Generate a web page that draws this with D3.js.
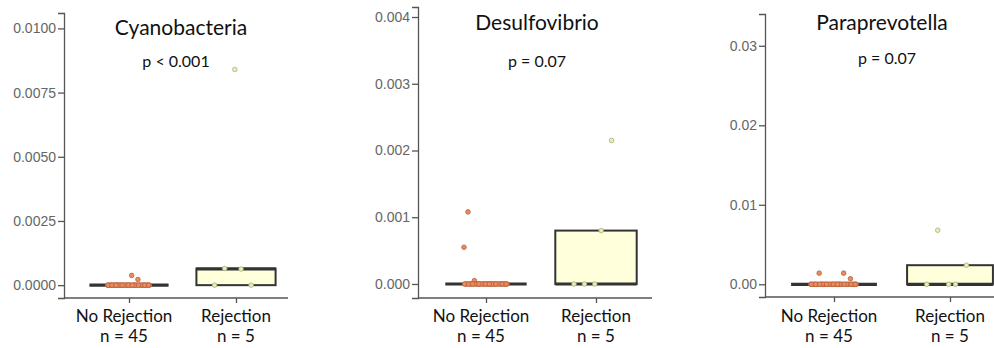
<!DOCTYPE html>
<html>
<head>
<meta charset="utf-8">
<script src="https://cdn.jsdelivr.net/npm/d3@7"></script>
<style>
  body { margin: 0; background: #fff; }
  svg { display: block; }
</style>
</head>
<body>
<svg id="chart" width="994" height="348"></svg>
<script>
// data
var groups = ["No Rejection", "Rejection"];
var groupN = [45, 5];
var taxa = ["Cyanobacteria", "Desulfovibrio", "Paraprevotella"];
var pLabels = ["p < 0.001", "p = 0.07", "p = 0.07"];

var cyanoNoRej = [0, 0, 0, 0, 0, 0, 0.00022, 0, 0, 0.00038,
  0, 0, 0, 0, 0, 0, 0, 0, 0, 0, 0, 0, 0, 0, 0, 0, 0, 0, 0, 0,
  0, 0, 0, 0, 0, 0, 0, 0, 0, 0, 0, 0, 0, 0, 0];
var cyanoRej = [0, 0.00063, 0.00065, 0, 0.0084];

var desulfoNoRej = [0.00055, 0, 0.00005, 0, 0, 0.00108, 0, 0, 0, 0,
  0, 0, 0, 0, 0, 0, 0, 0, 0, 0, 0, 0, 0, 0, 0, 0, 0, 0, 0, 0,
  0, 0, 0, 0, 0, 0, 0, 0, 0, 0, 0, 0, 0, 0, 0];
var desulfoRej = [0, 0.0008, 0, 0.00215, 0];

var paraNoRej = [0, 0, 0, 0.0007, 0, 0, 0.0014, 0, 0, 0,
  0.0014, 0, 0, 0, 0, 0, 0, 0, 0, 0, 0, 0, 0, 0, 0, 0, 0, 0, 0, 0,
  0, 0, 0, 0, 0, 0, 0, 0, 0, 0, 0, 0, 0, 0, 0];
var paraRej = [0, 0, 0.0068, 0.0024, 0];

var yTicks = [
  [0, 0.0025, 0.005, 0.0075, 0.01],
  [0, 0.001, 0.002, 0.003, 0.004],
  [0, 0.01, 0.02, 0.03]
];
var yFormats = [".4f", ".3f", ".2f"];
var yDomains = [[-0.0005, 0.0106], [-0.00021, 0.00415], [-0.0016, 0.034]];

// layout of each panel
var panels = [
  {ax: 64, axEnd: 288, c0: 129, c1: 236, top: 13, bottom: 298, tx: 181, ty: 35, px: 176, py: 67},
  {ax: 418, axEnd: 652, c0: 486, c1: 596, top: 7, bottom: 298, tx: 537, ty: 30, px: 537, py: 67},
  {ax: 765, axEnd: 1000, c0: 834, c1: 950, top: 14, bottom: 297, tx: 882, ty: 30, px: 887, py: 64}
];
var series = [[cyanoNoRej, cyanoRej], [desulfoNoRej, desulfoRej], [paraNoRej, paraRej]];

var fills = ["#ee8a5e", "#e9ecbb"];
var strokes = ["#b5623d", "#a9ae7a"];
var boxFill = "#ffffdc";
var axisCol = "#555";
var font = "Lato, 'Open Sans', sans-serif";

var svg = d3.select("#chart");

panels.forEach(function(p, k) {
  var g = svg.append("g");
  var y = d3.scaleLinear().domain(yDomains[k]).range([p.bottom, p.top]);
  var x = d3.scalePoint().domain(groups).range([p.c0, p.c1]);
  var step = p.c1 - p.c0;
  var half = step * 0.37;

  // y axis
  var ya = g.append("g").attr("transform", "translate(" + p.ax + ",0)")
    .call(d3.axisLeft(y).tickValues(yTicks[k]).tickFormat(d3.format(yFormats[k])).tickSizeOuter(0).tickSize(6));
  ya.select(".domain").attr("stroke", axisCol).attr("stroke-width", 1.3);
  ya.selectAll(".tick line").attr("stroke", axisCol).attr("stroke-width", 1.3);
  ya.selectAll(".tick text").attr("fill", "#666").style("font-family", "'Liberation Sans', Arial, sans-serif")
    .style("font-size", "14px").attr("x", -8);

  // x axis
  var xa = g.append("g").attr("transform", "translate(0," + p.bottom + ")")
    .call(d3.axisBottom(x).tickSize(5).tickSizeOuter(0).tickFormat(""));
  xa.select(".domain").remove();
  xa.append("line").attr("x1", p.ax).attr("x2", p.axEnd)
    .attr("stroke", axisCol).attr("stroke-width", 1.3);
  xa.selectAll(".tick line").attr("stroke", axisCol).attr("stroke-width", 1.3);

  groups.forEach(function(gr, i) {
    var t = g.append("text").attr("x", x(gr)).attr("y", 322)
      .attr("text-anchor", "middle").style("font-family", font).style("font-size", "17px").attr("fill", "#111");
    t.append("tspan").attr("x", x(gr) - (i === 0 ? 5 : 0)).text(gr);
    t.append("tspan").attr("x", x(gr) - (i === 0 ? 5 : 0)).attr("dy", 20).text("n = " + groupN[i]);
  });

  // boxes
  series[k].forEach(function(vals, i) {
    var s = vals.slice().sort(d3.ascending);
    var q1 = d3.quantile(s, 0.25), med = d3.quantile(s, 0.5), q3 = d3.quantile(s, 0.75);
    var iqr = q3 - q1;
    var lo = d3.min(s.filter(function(v) { return v >= q1 - 1.5 * iqr; }));
    var hi = d3.max(s.filter(function(v) { return v <= q3 + 1.5 * iqr; }));
    var cx = x(groups[i]);
    g.append("line").attr("x1", cx).attr("x2", cx).attr("y1", y(hi)).attr("y2", y(q3))
      .attr("stroke", "#333").attr("stroke-width", 1.5);
    g.append("line").attr("x1", cx).attr("x2", cx).attr("y1", y(lo)).attr("y2", y(q1))
      .attr("stroke", "#333").attr("stroke-width", 1.5);
    g.append("rect").attr("x", cx - half).attr("width", half * 2)
      .attr("y", y(q3)).attr("height", y(q1) - y(q3))
      .attr("fill", boxFill).attr("stroke", "#333").attr("stroke-width", 2);
    g.append("line").attr("x1", cx - half).attr("x2", cx + half).attr("y1", y(med)).attr("y2", y(med))
      .attr("stroke", "#333").attr("stroke-width", 3.2);
  });

  // jittered points (deterministic spread)
  series[k].forEach(function(vals, i) {
    var cx = x(groups[i]);
    g.selectAll(null).data(vals).enter().append("circle")
      .attr("cx", function(d, j) { return cx + (((j * 0.618034) % 1) - 0.5) * step * 0.4; })
      .attr("cy", function(d) { return y(d); })
      .attr("r", 2.3)
      .attr("fill", fills[i]).attr("stroke", strokes[i]).attr("stroke-width", 0.8);
  });

  g.append("text").attr("x", p.tx).attr("y", p.ty).attr("text-anchor", "middle")
    .style("font-family", font).style("font-size", "21px").attr("fill", "#111").text(taxa[k]);
  g.append("text").attr("x", p.px).attr("y", p.py).attr("text-anchor", "middle")
    .style("font-family", font).style("font-size", "16px").attr("fill", "#111").text(pLabels[k]);
});
</script>
</body>
</html>
